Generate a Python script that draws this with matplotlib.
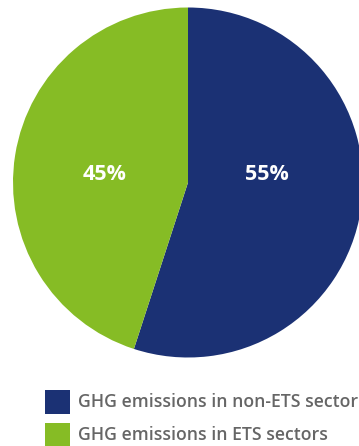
import matplotlib
matplotlib.use("Agg")
import matplotlib.pyplot as plt
from matplotlib.patches import Rectangle

plt.rcParams['font.family'] = ['Open Sans', 'DejaVu Sans']

labels = ['GHG emissions in non-ETS sectors', 'GHG emissions in ETS sectors']
shares = [55, 45]
colors = ['#1b3174', '#86bc25']

W, H = 359, 446
fig = plt.figure(figsize=(W / 100, H / 100), dpi=100)

# pie sits in a 350px square, top-left at (13, 7.5)
ax = fig.add_axes([13 / W, (H - 357.5) / H, 350 / W, 350 / H])
ax.pie(shares, colors=colors, startangle=90, counterclock=False, radius=1)
ax.set_xlim(-1, 1)
ax.set_ylim(-1, 1)
ax.set_aspect('equal')
ax.axis('off')

label_x = [0.451, -0.474]
for v, x in zip(shares, label_x):
    ax.text(x, 0.043, f'{v}%', color='white', fontsize=15.5, fontweight='bold',
            ha='center', va='center')

# legend: colour squares with grey captions
rows_top = [390, 423]
for lab, col, top in zip(labels, colors, rows_top):
    fig.add_artist(Rectangle((45 / W, (H - top - 24) / H), 25 / W, 24 / H,
                             transform=fig.transFigure, facecolor=col,
                             edgecolor='none'))
    fig.text(78 / W, (H - top - 12) / H, lab, color='#666666', fontsize=12.7,
             fontweight='semibold', ha='left', va='center')

fig.savefig('out.png', dpi=100)
